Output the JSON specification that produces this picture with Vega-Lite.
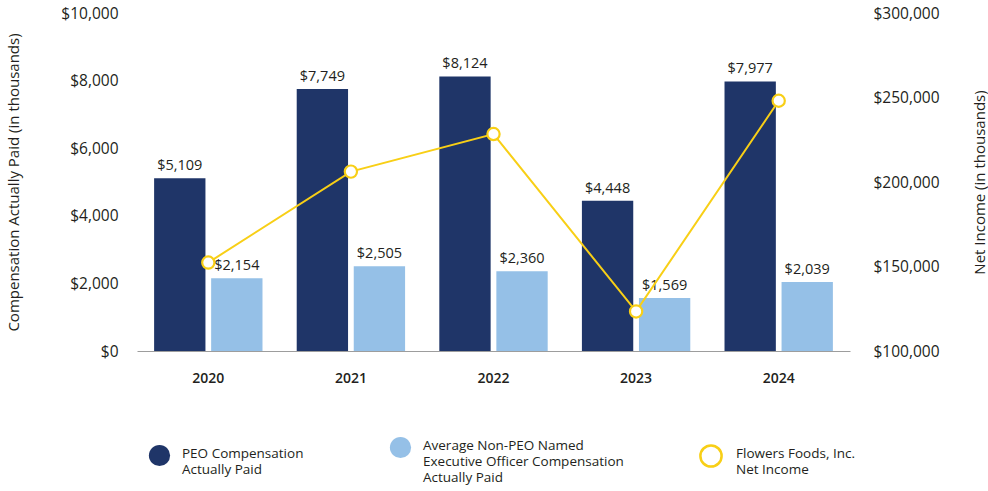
{
  "$schema": "https://vega.github.io/schema/vega-lite/v6.json",
  "width": 713,
  "height": 338,
  "autosize": {"type": "none"},
  "padding": {"left": 137, "top": 13, "right": 138, "bottom": 140},
  "background": "white",
  "config": {
    "font": "Open Sans",
    "view": {"stroke": null},
    "axis": {"grid": false, "ticks": false, "domain": false, "labelColor": "#231f20", "titleColor": "#231f20", "labelFont": "Open Sans", "titleFont": "Open Sans", "titleFontWeight": "normal"}
  },
  "datasets": {
    "comp": [
      {"year": "2020", "series": "PEO Compensation Actually Paid", "value": 5109},
      {"year": "2020", "series": "Average Non-PEO Named Executive Officer Compensation Actually Paid", "value": 2154},
      {"year": "2021", "series": "PEO Compensation Actually Paid", "value": 7749},
      {"year": "2021", "series": "Average Non-PEO Named Executive Officer Compensation Actually Paid", "value": 2505},
      {"year": "2022", "series": "PEO Compensation Actually Paid", "value": 8124},
      {"year": "2022", "series": "Average Non-PEO Named Executive Officer Compensation Actually Paid", "value": 2360},
      {"year": "2023", "series": "PEO Compensation Actually Paid", "value": 4448},
      {"year": "2023", "series": "Average Non-PEO Named Executive Officer Compensation Actually Paid", "value": 1569},
      {"year": "2024", "series": "PEO Compensation Actually Paid", "value": 7977},
      {"year": "2024", "series": "Average Non-PEO Named Executive Officer Compensation Actually Paid", "value": 2039}
    ],
    "income": [
      {"year": "2020", "series": "Flowers Foods, Inc. Net Income", "income": 152318},
      {"year": "2021", "series": "Flowers Foods, Inc. Net Income", "income": 206152},
      {"year": "2022", "series": "Flowers Foods, Inc. Net Income", "income": 228361},
      {"year": "2023", "series": "Flowers Foods, Inc. Net Income", "income": 123420},
      {"year": "2024", "series": "Flowers Foods, Inc. Net Income", "income": 248077}
    ]
  },
  "encoding": {
    "x": {
      "field": "year", "type": "nominal", "title": null,
      "scale": {"paddingInner": 0.24, "paddingOuter": 0.12},
      "axis": {"labelAngle": 0, "domain": true, "domainColor": "#9d9d9d", "domainWidth": 1.2, "labelFontSize": 14, "labelFontWeight": 600, "labelPadding": 20}
    }
  },
  "layer": [
    {
      "data": {"name": "comp"},
      "encoding": {
        "xOffset": {"field": "series", "type": "nominal", "sort": ["PEO Compensation Actually Paid", "Average Non-PEO Named Executive Officer Compensation Actually Paid"], "scale": {"paddingInner": 0.1, "paddingOuter": 0}},
        "y": {
          "field": "value", "type": "quantitative",
          "scale": {"domain": [0, 10000], "nice": false},
          "axis": {"orient": "left", "values": [0, 2000, 4000, 6000, 8000, 10000], "format": "$,.0f", "labelFontSize": 15.5, "labelPadding": 19, "title": "Compensation Actually Paid (in thousands)", "titleFontSize": 15, "titlePadding": 39}
        }
      },
      "layer": [
        {
          "mark": {"type": "bar"},
          "encoding": {
            "color": {
              "field": "series", "type": "nominal",
              "sort": ["PEO Compensation Actually Paid", "Average Non-PEO Named Executive Officer Compensation Actually Paid"],
              "scale": {"domain": ["PEO Compensation Actually Paid", "Average Non-PEO Named Executive Officer Compensation Actually Paid"], "range": ["#1f3568", "#95c0e7"]},
              "legend": {
                "title": null, "orient": "none", "legendX": 11, "legendY": 423, "direction": "horizontal", "columns": 2, "columnPadding": 85,
                "symbolType": "circle", "symbolSize": 450, "labelFontSize": 13.5, "labelColor": "#231f20", "labelLimit": 400, "labelOffset": 11, "labelBaseline": "top",
                "labelExpr": "datum.label == 'PEO Compensation Actually Paid' ? ['PEO Compensation', 'Actually Paid'] : ['Average Non-PEO Named', 'Executive Officer Compensation', 'Actually Paid']",
                "encode": {
                  "labels": {"update": {"dy": {"value": -9}, "lineHeight": {"value": 16}}}
                }
              }
            }
          }
        },
        {
          "mark": {"type": "text", "baseline": "bottom", "dy": -5, "fontSize": 14.5, "color": "#231f20"},
          "encoding": {
            "text": {"field": "value", "type": "quantitative", "format": "$,.0f"}
          }
        }
      ]
    },
    {
      "data": {"name": "income"},
      "encoding": {
        "y": {
          "field": "income", "type": "quantitative",
          "scale": {"domain": [100000, 300000], "nice": false, "zero": false},
          "axis": {"orient": "right", "values": [100000, 150000, 200000, 250000, 300000], "format": "$,.0f", "labelFontSize": 15.5, "labelPadding": 23, "title": "Net Income (in thousands)", "titleFontSize": 15, "titleAngle": -90, "titleBaseline": "top", "titlePadding": 33}
        },
        "stroke": {
          "field": "series", "type": "nominal",
          "scale": {"domain": ["Flowers Foods, Inc. Net Income"], "range": ["#f8cf16"]},
          "legend": {
            "title": null, "orient": "none", "legendX": 562, "legendY": 431,
            "symbolType": "circle", "symbolSize": 450, "symbolStrokeWidth": 2.5, "symbolFillColor": "white", "labelFontSize": 13.5, "labelColor": "#231f20", "labelLimit": 400, "labelOffset": 13, "labelBaseline": "top",
            "labelExpr": "['Flowers Foods, Inc.', 'Net Income']",
            "encode": {
              "symbols": {"update": {"fill": {"value": "white"}}},
              "labels": {"update": {"dy": {"value": -9}, "lineHeight": {"value": 16}}}
            }
          }
        }
      },
      "layer": [
        {"mark": {"type": "line", "strokeWidth": 2}},
        {"mark": {"type": "point", "filled": false, "fill": "white", "size": 150, "strokeWidth": 2.2, "opacity": 1}}
      ]
    }
  ],
  "resolve": {"scale": {"y": "independent"}}
}
